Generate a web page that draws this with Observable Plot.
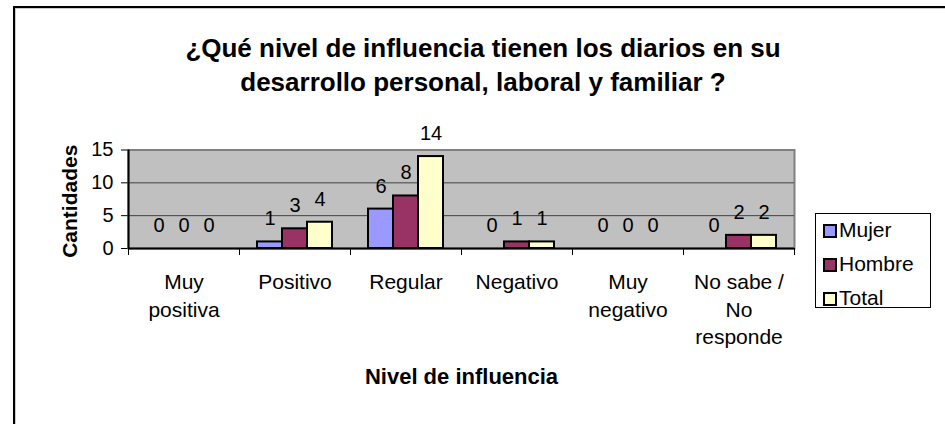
<!DOCTYPE html>
<html>
<head>
<meta charset="utf-8">
<script src="https://cdn.jsdelivr.net/npm/d3@7"></script>
<script src="https://cdn.jsdelivr.net/npm/@observablehq/plot@0.6"></script>
<style>
  html, body { margin: 0; padding: 0; background: #fff; }
  #wrap { position: relative; width: 945px; height: 424px; overflow: hidden; font-family: "Liberation Sans", Arial, sans-serif; }
  #frame { position: absolute; left: 13px; top: 6px; width: 1000px; height: 500px; border-left: 2px solid #000; border-top: 2px solid #000; box-shadow: 1px 1px 0 #ccc inset; }
  #title { position: absolute; left: 0; top: 31px; width: 966px; text-align: center; font-weight: bold; font-size: 26px; line-height: 34px; color: #000; }
  #chart { position: absolute; left: 0; top: 0; }
  #legend { position: absolute; left: 815px; top: 213px; width: 114px; height: 93px; border: 1px solid #000; background: #fff; font-size: 21px; }
  .item { position: absolute; left: 7px; height: 24px; line-height: 24px; color: #000; white-space: nowrap; }
  .sw { display: inline-block; box-sizing: border-box; width: 14px; height: 14px; border: 2px solid #000; vertical-align: -1px; margin-right: 2px; }
</style>
</head>
<body>
<div id="wrap">
  <div id="frame"></div>
  <div id="title">¿Qué nivel de influencia tienen los diarios en su<br>desarrollo personal, laboral y familiar ?</div>
  <div id="chart"></div>
  <div id="legend"></div>
</div>
<script>
const categories = ["Muy positiva", "Positivo", "Regular", "Negativo", "Muy negativo", "No sabe / No responde"];
const tickLabels = ["Muy\npositiva", "Positivo", "Regular", "Negativo", "Muy\nnegativo", "No sabe /\nNo\nresponde"];
const seriesNames = ["Mujer", "Hombre", "Total"];
const seriesColors = ["#9999FF", "#993366", "#FFFFCC"];
const mujer = [0, 1, 6, 0, 0, 0];
const hombre = [0, 3, 8, 1, 0, 2];
const total = [0, 4, 14, 1, 0, 2];
const yTicks = [0, 5, 10, 15];
const yLabel = "Cantidades";
const xLabel = "Nivel de influencia";

const rows = categories.map((c, i) => ({cat: c, label: tickLabels[i], Mujer: mujer[i], Hombre: hombre[i], Total: total[i]}));

// band width = 111px; bars 25px wide, group centred
const insets = [[18, 68], [43, 43], [68, 18]];
const dxs = [-25, 0, 25];

const marks = [
  Plot.frame({fill: "#C0C0C0", stroke: "#808080", strokeWidth: 2}),
  Plot.ruleY([5, 10], {stroke: "#404040", strokeWidth: 1})
];
seriesNames.forEach((s, k) => {
  marks.push(Plot.barY(rows, {
    x: "cat", y: s, fill: seriesColors[k], stroke: "#000", strokeWidth: 2,
    insetLeft: insets[k][0], insetRight: insets[k][1]
  }));
});
seriesNames.forEach((s, k) => {
  marks.push(Plot.text(rows, {
    x: "cat", y: s, text: d => String(d[s]), dx: dxs[k], dy: -23,
    fontSize: 20, fill: "#000"
  }));
});
// axes lines
marks.push(Plot.ruleY([0], {stroke: "#000", strokeWidth: 2}));
marks.push(Plot.ruleX([categories[0]], {x: d => d, y1: 0, y2: 15, dx: -55.5, stroke: "#000", strokeWidth: 2}));
// category boundary ticks
marks.push(Plot.ruleX(rows, {x: "cat", y1: 0, y2: 0, insetBottom: -7, dx: -55.5, stroke: "#000", strokeWidth: 1}));
marks.push(Plot.ruleX([categories[categories.length - 1]], {x: d => d, y1: 0, y2: 0, insetBottom: -7, dx: 55.5, stroke: "#000", strokeWidth: 1}));
// x tick labels (multi-line)
marks.push(Plot.text(rows, {x: "cat", text: "label", frameAnchor: "bottom", lineAnchor: "top", dy: 21, lineHeight: 1.31, fontSize: 21, fill: "#000"}));

const chart = Plot.plot({
  width: 945,
  height: 424,
  marginLeft: 128,
  marginRight: 151,
  marginTop: 149.5,
  marginBottom: 176,
  style: {background: "transparent", fontFamily: "'Liberation Sans', Arial, sans-serif", fontSize: "20px", color: "#000", overflow: "visible"},
  x: {domain: categories, padding: 0, axis: null},
  y: {domain: [0, 15], ticks: yTicks, tickSize: 7, tickPadding: 8, label: null, tickFormat: d => String(d)},
  marks: [
    ...marks,
    Plot.text([yLabel], {text: d => d, frameAnchor: "left", textAnchor: "middle", rotate: -90, dx: -58, dy: 2, fontSize: 21, fontWeight: "bold", fill: "#000"}),
    Plot.text([xLabel], {text: d => d, frameAnchor: "bottom", dy: 135, fontSize: 22, fontWeight: "bold", fill: "#000"})
  ]
});
document.getElementById("chart").appendChild(chart);

const legend = document.getElementById("legend");
seriesNames.forEach((s, k) => {
  const it = document.createElement("div");
  it.className = "item";
  it.style.top = (4 + k * 34) + "px";
  it.innerHTML = `<span class="sw" style="background:${seriesColors[k]}"></span>${s}`;
  legend.appendChild(it);
});
</script>
</body>
</html>
